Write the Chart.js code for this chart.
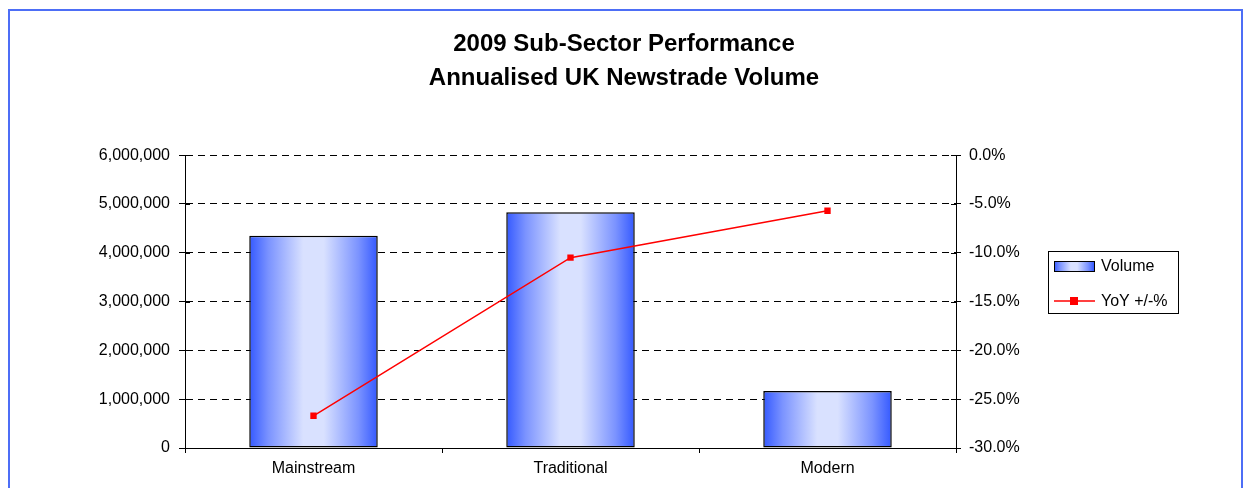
<!DOCTYPE html>
<html>
<head>
<meta charset="utf-8">
<script src="https://cdn.jsdelivr.net/npm/chart.js@4.4.1/dist/chart.umd.min.js"></script>
<style>
  html, body { margin: 0; padding: 0; background: #fff; }
  #wrap { position: relative; width: 1248px; height: 488px; overflow: hidden; }
  #frame { position: absolute; left: 8px; top: 9px; width: 1231px; height: 520px; border: 2px solid #4d6ef6; box-sizing: content-box; }
  canvas { position: absolute; left: 0; top: 0; }
</style>
</head>
<body>
<div id="wrap">
  <div id="frame"></div>
  <canvas id="myChart" width="1248" height="488"></canvas>
</div>
<script>
const categories = ['Mainstream', 'Traditional', 'Modern']
const volume = [4350000, 4830000, 1170000]
const yoy = [-26.7, -10.5, -5.7]
const titleLines = ['2009 Sub-Sector Performance', 'Annualised UK Newstrade Volume']

const FONT = "'Liberation Sans', Arial, sans-serif"
const BAR_PCT = 0.5

function blueGradient(ctx, l, r) {
  const g = ctx.createLinearGradient(l, 0, r, 0)
  g.addColorStop(0, '#3459ff')
  g.addColorStop(0.15, '#7b93ff')
  g.addColorStop(0.42, '#d9e1ff')
  g.addColorStop(0.58, '#d9e1ff')
  g.addColorStop(0.85, '#7b93ff')
  g.addColorStop(1, '#3459ff')
  return g
}

// bar fill: gradient across each bar's own width
const barFill = (c) => {
  const chart = c.chart
  if (!chart.chartArea || c.dataIndex === undefined) return '#8299ff'
  const xs = chart.scales.x
  const x = xs.getPixelForValue(c.dataIndex)
  const half = xs.width / categories.length * BAR_PCT / 2
  return blueGradient(chart.ctx, x - half, x + half)
}

// little cross ticks on the inner side of both value axes + legend box
const extras = {
  id: 'extras',
  afterDatasetsDraw(chart) {
    const ctx = chart.ctx
    ctx.save()
    ctx.strokeStyle = '#000'
    ctx.lineWidth = 1
    ;['y', 'y1'].forEach(id => {
      const s = chart.scales[id]
      const x0 = id === 'y' ? chart.chartArea.left : chart.chartArea.right
      const dir = id === 'y' ? 1 : -1
      s.ticks.forEach(t => {
        const y = Math.round(s.getPixelForValue(t.value)) + 0.5
        ctx.beginPath()
        ctx.moveTo(x0, y)
        ctx.lineTo(x0 + dir * 5, y)
        ctx.stroke()
      })
    })
    ctx.restore()
  },
  afterDraw(chart) {
    const ctx = chart.ctx
    ctx.save()
    ctx.strokeStyle = '#000'
    ctx.lineWidth = 1
    ctx.strokeRect(1048.5, 251.5, 130, 62)

    ctx.fillStyle = blueGradient(ctx, 1054, 1094)
    ctx.fillRect(1054, 261, 40, 10)
    ctx.strokeRect(1054.5, 261.5, 40, 10)

    ctx.strokeStyle = '#ff0000'
    ctx.lineWidth = 1.5
    ctx.beginPath()
    ctx.moveTo(1054, 301)
    ctx.lineTo(1095, 301)
    ctx.stroke()
    ctx.fillStyle = '#ff0000'
    ctx.fillRect(1070, 297, 8, 8)

    ctx.fillStyle = '#000'
    ctx.font = '16px ' + FONT
    ctx.textBaseline = 'middle'
    ctx.fillText(chart.data.datasets[0].label, 1101, 267)
    ctx.fillText(chart.data.datasets[1].label, 1101, 302)
    ctx.restore()
  }
}

const data = {
  labels: categories,
  datasets: [
    {
      type: 'bar',
      label: 'Volume',
      data: volume,
      yAxisID: 'y',
      backgroundColor: barFill,
      borderColor: '#000',
      borderWidth: 1.5,
      borderSkipped: false,
      barPercentage: BAR_PCT,
      categoryPercentage: 1,
      order: 1
    },
    {
      type: 'line',
      label: 'YoY +/-%',
      data: yoy,
      yAxisID: 'y1',
      borderColor: '#ff0000',
      backgroundColor: '#ff0000',
      borderWidth: 1.5,
      pointStyle: 'rect',
      pointRadius: 4.5,
      pointBorderWidth: 0,
      order: 0
    }
  ]
}

const options = {
  responsive: false,
  animation: false,
  layout: { padding: 0 },
  plugins: {
    legend: { display: false },
    tooltip: { enabled: false },
    title: {
      display: true,
      text: titleLines,
      color: '#000',
      font: { family: FONT, size: 24, weight: 'bold', lineHeight: 1.42 },
      padding: { top: 27, bottom: 60 }
    }
  },
  scales: {
    x: {
      grid: { offset: true, drawOnChartArea: false, drawTicks: true, tickLength: 5, color: '#000' },
      border: { color: '#000', width: 1 },
      ticks: { color: '#000', font: { family: FONT, size: 16 }, padding: 6 },
      afterFit(scale) { scale.height = 40 }
    },
    y: {
      type: 'linear',
      position: 'left',
      min: 0,
      max: 6000000,
      ticks: {
        stepSize: 1000000,
        color: '#000',
        font: { family: FONT, size: 16 },
        padding: 9,
        callback: v => v.toLocaleString('en-GB')
      },
      grid: { color: '#000', tickLength: 6, drawTicks: true },
      border: { color: '#000', width: 1, dash: [7, 5] },
      afterFit(scale) { scale.width = 185 }
    },
    y1: {
      type: 'linear',
      position: 'right',
      min: -30,
      max: 0,
      ticks: {
        stepSize: 5,
        color: '#000',
        font: { family: FONT, size: 16 },
        padding: 8,
        callback: v => v.toFixed(1) + '%'
      },
      grid: { drawOnChartArea: false, color: '#000', tickLength: 5 },
      border: { color: '#000', width: 1 },
      afterFit(scale) { scale.width = 292 }
    }
  }
}

const myChart = new Chart(document.getElementById('myChart'), {
  data: data,
  options: options,
  plugins: [extras]
})
</script>
</body>
</html>
